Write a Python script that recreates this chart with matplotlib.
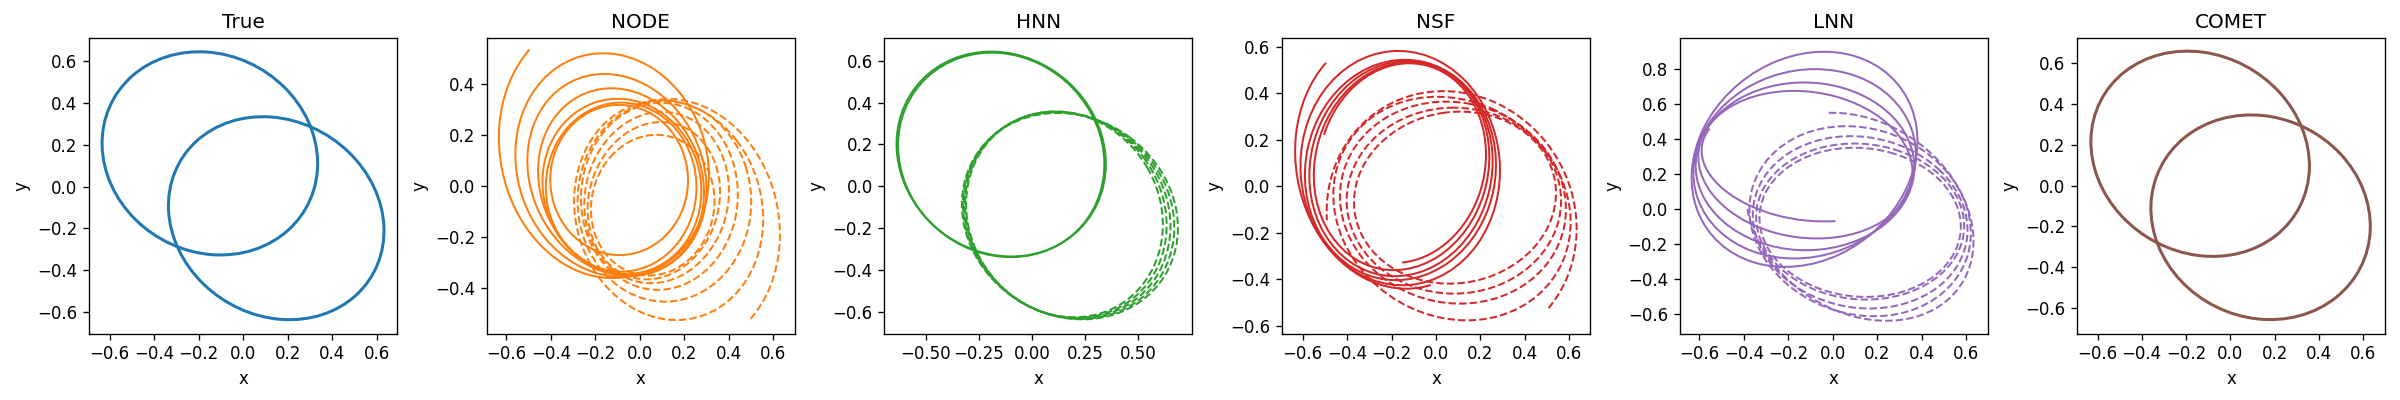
import numpy as np
import matplotlib
matplotlib.use("Agg")
import matplotlib.pyplot as plt
from matplotlib.patches import Ellipse, Arc

titles = ["True", "NODE", "HNN", "NSF", "LNN", "COMET"]
colors = ["#1f77b4", "#ff7f0e", "#2ca02c", "#d62728", "#9467bd", "#8c564b"]

# Each orbit turn:
# (left x, right x, bottom y, top y, x of the top point, arc start deg, arc end deg)
true_body1 = [(-0.634, 0.334, -0.327, 0.646, -0.198, 0, 360)]
true_body2 = [(-0.336, 0.632, -0.637, 0.335, 0.088, 0, 360)]

node_body1 = [
    (-0.634, 0.310, -0.360, 0.655, -0.200, 131, 290),
    (-0.560, 0.310, -0.355, 0.519, -0.166, 0, 360),
    (-0.506, 0.299, -0.352, 0.438, -0.160, 0, 360),
    (-0.458, 0.288, -0.350, 0.382, -0.128, 0, 360),
    (-0.438, 0.276, -0.344, 0.341, -0.100, 0, 360),
    (-0.423, 0.254, -0.335, 0.326, -0.085, 0, 360),
    (-0.403, 0.216, -0.270, 0.317, -0.095, 0, 360),
]
node_body2 = [
    (-0.300, 0.629, -0.640, 0.340, 0.127, 312, 470),
    (-0.296, 0.554, -0.524, 0.335, 0.094, 0, 360),
    (-0.280, 0.500, -0.452, 0.333, 0.108, 0, 360),
    (-0.265, 0.440, -0.406, 0.325, 0.095, 0, 360),
    (-0.250, 0.400, -0.380, 0.290, 0.100, 0, 360),
    (-0.235, 0.360, -0.365, 0.250, 0.095, 0, 360),
    (-0.220, 0.335, -0.350, 0.200, 0.074, 0, 360),
]

hnn_body1 = [
    (-0.637, 0.347, -0.335, 0.643, -0.193, 0, 360),
    (-0.630, 0.340, -0.338, 0.638, -0.190, 0, 360),
]
hnn_body2 = [
    (-0.310, 0.615, -0.625, 0.357, 0.107, 0, 360),
    (-0.315, 0.633, -0.628, 0.357, 0.110, 0, 360),
    (-0.320, 0.651, -0.630, 0.355, 0.113, 0, 360),
    (-0.325, 0.669, -0.633, 0.353, 0.116, 0, 360),
    (-0.330, 0.686, -0.635, 0.350, 0.120, 0, 360),
]

nsf_body1 = [
    (-0.634, 0.300, -0.440, 0.665, -0.200, 128, 285),
    (-0.610, 0.288, -0.425, 0.583, -0.170, 0, 360),
    (-0.590, 0.270, -0.403, 0.545, -0.140, 0, 360),
    (-0.570, 0.255, -0.386, 0.540, -0.130, 0, 360),
    (-0.550, 0.240, -0.360, 0.535, -0.120, 0, 360),
    (-0.530, 0.225, -0.329, 0.530, -0.120, -90, 161),
]
nsf_body2 = [
    (-0.492, 0.633, -0.700, 0.410, 0.033, 319, 540),
    (-0.462, 0.606, -0.576, 0.386, 0.006, 0, 360),
    (-0.432, 0.585, -0.504, 0.365, 0.045, 0, 360),
    (-0.402, 0.563, -0.461, 0.339, 0.080, 0, 360),
    (-0.369, 0.540, -0.418, 0.322, 0.110, 0, 360),
]

lnn_body1 = [
    (-0.635, 0.380, -0.329, 0.897, -0.040, 0, 360),
    (-0.627, 0.373, -0.281, 0.798, -0.080, 0, 360),
    (-0.617, 0.366, -0.234, 0.722, -0.130, 0, 360),
    (-0.605, 0.358, -0.167, 0.674, -0.175, 0, 360),
    (-0.590, 0.350, -0.070, 0.620, -0.200, 157, 291),
]
lnn_body2 = [
    (-0.391, 0.632, -0.636, 0.549, 0.000, 175, 464),
    (-0.375, 0.620, -0.610, 0.473, 0.060, 0, 360),
    (-0.360, 0.605, -0.566, 0.416, 0.080, 0, 360),
    (-0.345, 0.590, -0.515, 0.374, 0.096, 0, 360),
    (-0.330, 0.575, -0.500, 0.350, 0.096, 0, 360),
]

comet_body1 = [(-0.630, 0.357, -0.347, 0.660, -0.194, 0, 360)]
comet_body2 = [(-0.359, 0.632, -0.657, 0.347, 0.093, 0, 360)]

xlims = [(-0.6915, 0.6915), (-0.688, 0.696), (-0.694, 0.754),
         (-0.693, 0.693), (-0.689, 0.695), (-0.692, 0.699)]
ylims = [(-0.7036, 0.710), (-0.577, 0.577), (-0.703, 0.706),
         (-0.633, 0.637), (-0.709, 0.973), (-0.7257, 0.7225)]

ticks_06 = [-0.6, -0.4, -0.2, 0.0, 0.2, 0.4, 0.6]
hnn_xticks = [-0.5, -0.25, 0.0, 0.25, 0.5]
node_yticks = [-0.4, -0.2, 0.0, 0.2, 0.4]
lnn_yticks = [-0.6, -0.4, -0.2, 0.0, 0.2, 0.4, 0.6, 0.8]
xticks = [ticks_06, ticks_06, hnn_xticks, ticks_06, ticks_06, ticks_06]
yticks = [ticks_06, node_yticks, ticks_06, ticks_06, lnn_yticks, ticks_06]

body1 = [true_body1, node_body1, hnn_body1, nsf_body1, lnn_body1, comet_body1]
body2 = [true_body2, node_body2, hnn_body2, nsf_body2, lnn_body2, comet_body2]


def turn_patch(turn, color, ls, lw):
    L, R, B, T, xt, a0, a1 = turn
    cx, cy = (L + R) / 2, (B + T) / 2
    ex, ey = (R - L) / 2, (T - B) / 2
    c = (xt - cx) * ey
    w, v = np.linalg.eigh(np.array([[ex * ex, c], [c, ey * ey]]))
    a, b = np.sqrt(w[1]), np.sqrt(w[0])
    ang = np.degrees(np.arctan2(v[1, 1], v[0, 1]))
    if a1 - a0 >= 360:
        return Ellipse((cx, cy), 2 * a, 2 * b, angle=ang, fill=False,
                       edgecolor=color, linestyle=ls, linewidth=lw)
    return Arc((cx, cy), 2 * a, 2 * b, angle=ang, theta1=a0 - ang,
               theta2=a1 - ang, edgecolor=color, linestyle=ls, linewidth=lw)


fig, axes = plt.subplots(1, 6, figsize=(20, 10 / 3), dpi=120)
fig.subplots_adjust(left=0.0372, right=0.9938, bottom=0.166, top=0.904,
                    wspace=0.291)

for i, ax in enumerate(axes):
    col = colors[i]
    lw = 1.8 if i in (0, 5) else 1.2
    for turn in body1[i]:
        ax.add_patch(turn_patch(turn, col, "-", lw))
    ls2 = "-" if i in (0, 5) else "--"
    for turn in body2[i]:
        ax.add_patch(turn_patch(turn, col, ls2, lw))
    ax.set_xlim(*xlims[i])
    ax.set_ylim(*ylims[i])
    ax.set_xticks(xticks[i])
    ax.set_yticks(yticks[i])
    ax.set_title(titles[i])
    ax.set_xlabel("x")
    ax.set_ylabel("y")

fig.savefig("out.png", dpi=120)
